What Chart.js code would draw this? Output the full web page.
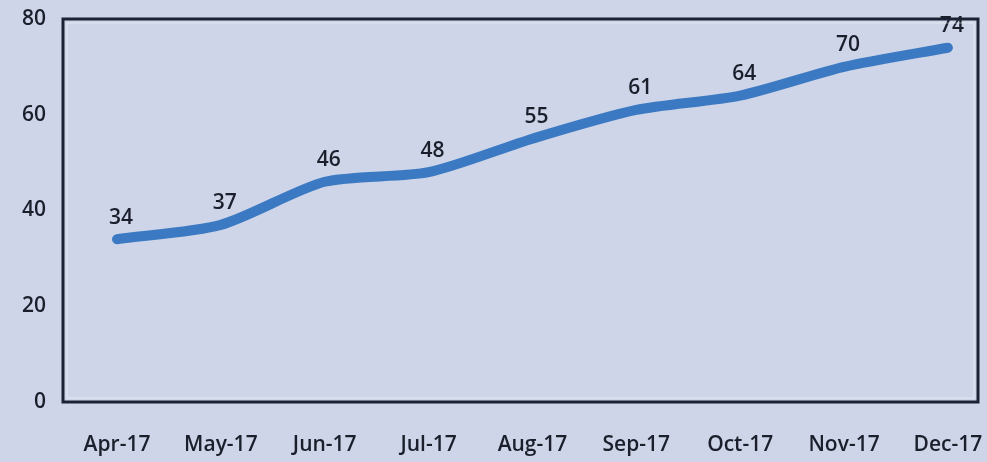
<!DOCTYPE html>
<html>
<head>
<meta charset="utf-8">
<script src="https://cdn.jsdelivr.net/npm/chart.js@4/dist/chart.umd.min.js"></script>
<style>
  html, body { margin: 0; padding: 0; background: #ced5e8; }
  #wrap { width: 987px; height: 462px; }
</style>
</head>
<body>
<div id="wrap"><canvas id="c" width="987" height="462"></canvas></div>
<script>
const months = ['Apr-17', 'May-17', 'Jun-17', 'Jul-17', 'Aug-17', 'Sep-17', 'Oct-17', 'Nov-17', 'Dec-17'];
const values = [34, 37, 46, 48, 55, 61, 64, 70, 74];
const yTicks = [0, 20, 40, 60, 80];

const FONT = '"Open Sans", "DejaVu Sans", sans-serif';
const TEXT = '#1a1f2b';

// Outline around the plot area
const frame = {
  id: 'frame',
  afterDraw(chart) {
    const { ctx, chartArea: a } = chart;
    ctx.save();
    ctx.strokeStyle = 'rgba(255,255,255,0.45)';
    ctx.lineWidth = 1;
    ctx.strokeRect(a.left + 4, a.top + 4, a.right - a.left - 8, a.bottom - a.top - 8);
    ctx.strokeStyle = '#1b2233';
    ctx.lineWidth = 3;
    ctx.strokeRect(a.left, a.top, a.right - a.left, a.bottom - a.top);
    ctx.restore();
  }
};

// Value labels above each point
const valueLabels = {
  id: 'valueLabels',
  afterDatasetsDraw(chart) {
    const { ctx } = chart;
    const meta = chart.getDatasetMeta(0);
    ctx.save();
    ctx.font = '600 21px ' + FONT;
    ctx.fillStyle = TEXT;
    ctx.textAlign = 'center';
    ctx.textBaseline = 'bottom';
    meta.data.forEach((pt, i) => {
      ctx.fillText(String(values[i]), pt.x + 4, pt.y - 11);
    });
    ctx.restore();
  }
};

new Chart(document.getElementById('c'), {
  type: 'line',
  data: {
    datasets: [{
      data: values.map((v, i) => ({ x: i, y: v })),
      borderColor: '#3b7ac2',
      borderWidth: 10,
      borderCapStyle: 'round',
      borderJoinStyle: 'round',
      tension: 0.25,
      pointRadius: 0,
      fill: false
    }]
  },
  options: {
    responsive: false,
    animation: false,
    layout: { padding: { top: 19, right: 9, left: 0, bottom: 0 } },
    plugins: { legend: { display: false }, tooltip: { enabled: false } },
    scales: {
      x: {
        type: 'linear',
        min: -0.52,
        max: 8.29,
        afterBuildTicks(scale) { scale.ticks = months.map((m, i) => ({ value: i })); },
        afterFit(scale) {
          scale.height = 60;
          scale.paddingLeft = 0;
          scale.paddingRight = 0;
        },
        grid: { display: false, drawTicks: false },
        border: { display: false },
        ticks: {
          padding: 30,
          color: TEXT,
          font: { family: FONT, size: 21, weight: '600' },
          maxRotation: 0,
          autoSkip: false,
          callback: (v) => months[v] ?? ''
        }
      },
      y: {
        min: 0,
        max: 80,
        afterBuildTicks(scale) { scale.ticks = yTicks.map(v => ({ value: v })); },
        afterFit(scale) {
          scale.width = 63;
          scale.paddingTop = 0;
          scale.paddingBottom = 0;
        },
        grid: { display: false, drawTicks: false },
        border: { display: false },
        ticks: {
          padding: 17,
          color: TEXT,
          font: { family: FONT, size: 21, weight: '600' }
        }
      }
    }
  },
  plugins: [frame, valueLabels]
});
</script>
</body>
</html>
